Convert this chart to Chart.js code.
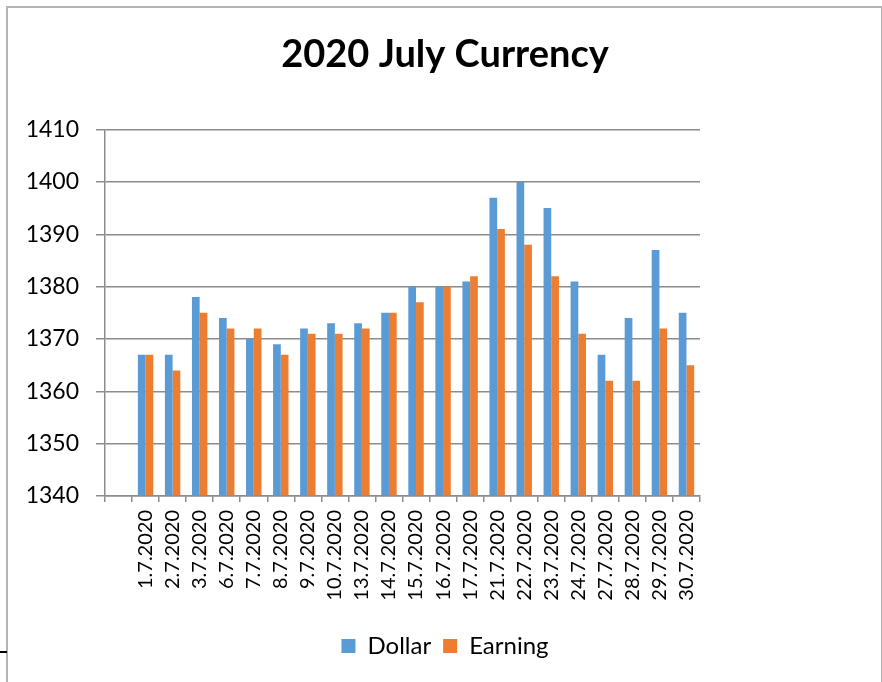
<!DOCTYPE html>
<html><head><meta charset="utf-8">
<script src="https://cdn.jsdelivr.net/npm/chart.js@4"></script>
<style>
html,body{margin:0;padding:0;background:#fff;}
#wrap{position:relative;width:882px;height:682px;overflow:hidden;}
#frame{position:absolute;left:6px;top:6px;width:877px;height:690px;border:2px solid #b4b4b4;box-sizing:border-box;}
#mark{position:absolute;left:0;top:651px;width:7px;height:2px;background:#000;}
canvas{position:absolute;left:0;top:0;}
</style></head>
<body><div id="wrap"><div id="frame"></div><div id="mark"></div><canvas id="c" width="882" height="682"></canvas></div>
<script>
const categories = ["1.7.2020","2.7.2020","3.7.2020","6.7.2020","7.7.2020","8.7.2020","9.7.2020","10.7.2020","13.7.2020","14.7.2020","15.7.2020","16.7.2020","17.7.2020","21.7.2020","22.7.2020","23.7.2020","24.7.2020","27.7.2020","28.7.2020","29.7.2020","30.7.2020"];
const dollar  = [1367,1367,1378,1374,1370,1369,1372,1373,1373,1375,1380,1380,1381,1397,1400,1395,1381,1367,1374,1387,1375];
const earning = [1367,1364,1375,1372,1372,1367,1371,1371,1372,1375,1377,1380,1382,1391,1388,1382,1371,1362,1362,1372,1365];
const yTicks = [1340,1350,1360,1370,1380,1390,1400,1410];

// The original has one empty slot before the first date
const labels = [''].concat(categories);
const FONT = "Lato";
new Chart(document.getElementById('c'), {
  type: 'bar',
  data: {
    labels: labels,
    datasets: [
      {label:'Dollar', data: [null].concat(dollar), backgroundColor:'#5B9BD5', base:1340},
      {label:'Earning', data: [null].concat(earning), backgroundColor:'#ED7D31', base:1340}
    ]
  },
  options: {
    responsive:false, animation:false,
    layout:{padding:{left:8,right:0,top:0,bottom:14}},
    datasets:{bar:{categoryPercentage:0.57,barPercentage:1.0}},
    plugins:{
      title:{display:true,text:'2020 July Currency',color:'#000',
        font:{family:FONT,size:38,weight:'bold',lineHeight:1.2},padding:{top:32,bottom:52}},
      legend:{position:'bottom',labels:{color:'#000',font:{family:FONT,size:24},boxWidth:14,boxHeight:14,padding:12}},
      tooltip:{enabled:false}
    },
    scales:{
      y:{min:1340,max:1410,
        afterFit:(s)=>{s.width=97;},
        afterBuildTicks:(s)=>{s.ticks=yTicks.map(v=>({value:v}));},
        border:{color:'#8c8c8c',width:1.5},
        grid:{color:'#8c8c8c',lineWidth:1.5,tickLength:9,drawTicks:true},
        ticks:{color:'#000',font:{family:FONT,size:23},padding:17,callback:(v)=>String(v)}
      },
      yr:{position:'right',display:true,
        afterFit:(s)=>{s.width=182;},
        grid:{display:false},border:{display:false},ticks:{display:false}
      },
      x:{
        afterFit:(s)=>{s.height=126;},
        border:{color:'#8c8c8c',width:1.5},
        grid:{display:true,drawOnChartArea:false,color:'#8c8c8c',lineWidth:1.5,tickLength:6,offset:true},
        ticks:{color:'#000',font:{family:FONT,size:20},minRotation:90,maxRotation:90,autoSkip:false,padding:8}
      }
    }
  }
});
</script></body></html>
